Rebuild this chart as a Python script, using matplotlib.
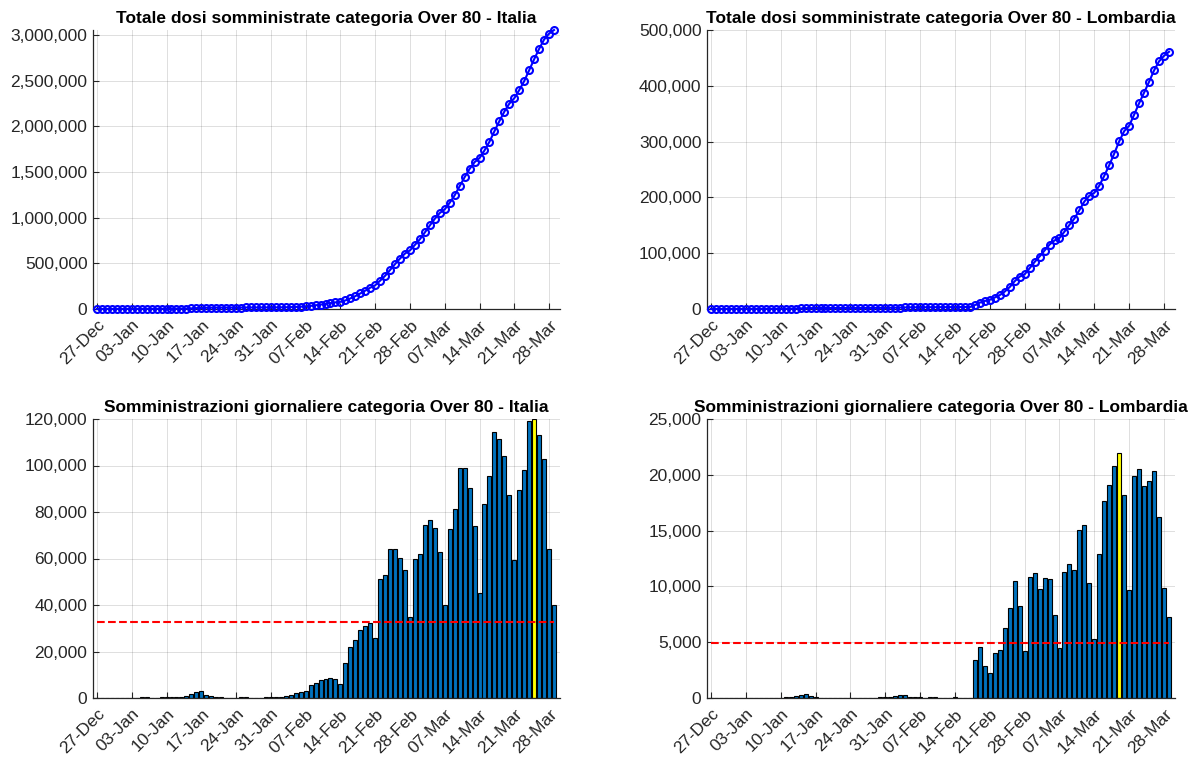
import matplotlib
matplotlib.use("Agg")
import matplotlib.pyplot as plt
import numpy as np
from matplotlib.ticker import FuncFormatter

plt.rcParams['font.family'] = ['Liberation Sans', 'DejaVu Sans']

# daily doses, over 80, from 27-Dec-2020 to 29-Mar-2021
italia_daily = [
    130, 90, 160, 210, 180, 170, 140, 120, 180, 220, 230, 190, 150,
    350, 420, 480, 450, 520,
    700, 1800, 2600, 2900, 1500, 900, 550,
    250, 180, 150, 200, 230, 220, 160, 130, 200, 260, 280, 300,
    450, 850, 1300, 2100, 2700, 3000, 5800, 6400, 7600, 8000, 8600, 8000, 5900,
    15100, 21900, 25100, 29300, 31000, 32300, 26000,
    51000, 53100, 64000, 64100, 60300, 55000, 34900,
    59700, 62100, 74300, 76400, 73000, 63000, 40000,
    72600, 81300, 99000, 99000, 90300, 73900, 45100,
    83400, 95300, 114600, 111300, 103900, 87300, 59300,
    89300, 98000, 119300, 119800, 113300, 102600, 64100,
    39900,
]

lombardia_daily = [
    20, 10, 30, 40, 30, 30, 20, 20, 30, 40, 40, 30, 20, 30, 40, 50,
    120, 220, 260, 330, 180,
    60, 40, 30, 30, 20, 20, 30, 30, 40, 30, 20, 30, 40, 50, 60,
    90, 160, 230, 290, 120,
    60, 50, 40, 50, 60, 40, 30, 40, 50, 40, 30, 30,
    3430, 4530, 2890, 2210,
    4000, 4330, 6290, 8050, 10470, 8230, 4240,
    10800, 11220, 9780, 10770, 10620, 7430, 4500,
    11310, 12020, 11510, 15030, 15480, 10290, 5250,
    12890, 17690, 19060, 20790, 21920, 18200, 9720,
    19870, 20520, 19000, 19420, 20340, 16230, 9870,
    7250,
]

week_labels = ['27-Dec', '03-Jan', '10-Jan', '17-Jan', '24-Jan', '31-Jan', '07-Feb',
               '14-Feb', '21-Feb', '28-Feb', '07-Mar', '14-Mar', '21-Mar', '28-Mar']

regions = ['Italia', 'Lombardia']
daily = {'Italia': np.array(italia_daily), 'Lombardia': np.array(lombardia_daily)}
ylims_tot = {'Italia': None, 'Lombardia': 500000}
ylims_day = {'Italia': 120000, 'Lombardia': 25000}

W, H = 1197, 760
fig = plt.figure(figsize=(W / 100, H / 100), dpi=100)

def px_axes(x0, y0, x1, y1):
    return fig.add_axes([x0 / W, 1 - y1 / H, (x1 - x0) / W, (y1 - y0) / H])

dark = '#262626'
fmt = FuncFormatter(lambda v, p: '{:,.0f}'.format(v))

def style(ax, n):
    ax.set_xlim(-0.8, n - 1 + 1.2)
    ax.set_xticks(np.arange(0, 7 * len(week_labels), 7))
    ax.set_xticklabels(week_labels, rotation=45, ha='right', rotation_mode='anchor')
    ax.yaxis.set_major_formatter(fmt)
    ax.tick_params(direction='in', length=4, width=0.8, colors=dark, labelsize=12.5,
                   labelcolor=dark, pad=4)
    ax.tick_params(axis='x', pad=6)
    for s in ['top', 'right']:
        ax.spines[s].set_visible(False)
    for s in ['left', 'bottom']:
        ax.spines[s].set_color(dark)
        ax.spines[s].set_linewidth(0.9)
    ax.grid(True, color=dark, alpha=0.15, linewidth=0.7)
    ax.set_axisbelow(True)

boxes_top = [(93, 30, 560, 309), (707, 30, 1175, 309)]
boxes_bot = [(93, 419, 560, 698), (707, 419, 1175, 698)]

for reg, bt, bb in zip(regions, boxes_top, boxes_bot):
    d = daily[reg]
    x = np.arange(len(d))
    total = np.cumsum(d)

    ax = px_axes(*bt)
    ax.plot(x, total, '-o', color='#0000ff', lw=1.5, ms=5, mfc='none', mew=1.5,
            clip_on=False, zorder=3)
    style(ax, len(d))
    top = ylims_tot[reg] if ylims_tot[reg] else total.max()
    ax.set_ylim(0, top)
    ax.set_title('Totale dosi somministrate categoria Over 80 - ' + reg,
                 fontsize=12.5, fontweight='bold', pad=5)

    ax2 = px_axes(*bb)
    colors = ['#0072BD'] * len(d)
    colors[int(np.argmax(d))] = '#FFFF00'
    ax2.bar(x, d, width=0.8, color=colors, edgecolor='black', linewidth=0.8, zorder=2)
    ax2.plot([x[0], x[-1]], [d.mean(), d.mean()], '--', color='#ff0000', lw=1.5, zorder=3)
    style(ax2, len(d))
    ax2.set_ylim(0, ylims_day[reg])
    ax2.set_title('Somministrazioni giornaliere categoria Over 80 - ' + reg,
                  fontsize=12.5, fontweight='bold', pad=5)

fig.savefig('out.png', dpi=100)
